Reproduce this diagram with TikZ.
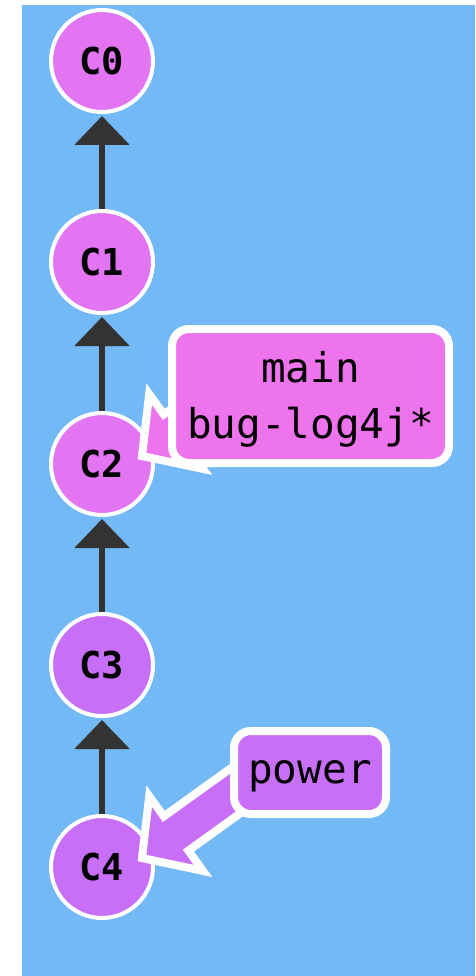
\documentclass[tikz,border=0pt]{standalone}
\usepackage{fontspec}
\usetikzlibrary{arrows.meta}
\newfontfamily\commitfont{DejaVu Sans Mono Bold}
\newfontfamily\labelfont{DejaVu Sans Mono}
\definecolor{bgblue}{RGB}{115,185,245}
\definecolor{pinkc}{RGB}{227,117,243}
\definecolor{purplec}{RGB}{199,112,247}
\definecolor{pinkl}{RGB}{238,116,238}
\definecolor{linkgray}{RGB}{51,51,51}
\tikzset{
  commit/.style={circle, draw=white, line width=4pt, minimum size=102pt, inner sep=0pt,
    font=\commitfont\fontsize{37}{40}\selectfont},
  parentlink/.style={draw=linkgray, line width=6pt,
    -{Triangle[width=54pt,length=29pt]}, shorten >=2pt},
  branchbox/.style={draw=white, line width=8pt, rounded corners=17pt, inner sep=0pt,
    font=\labelfont\fontsize{41}{56}\selectfont, align=center, text depth=0pt},
  pointer/.style={draw=white, line width=8pt, line join=miter}
}
\begin{document}
\begin{tikzpicture}[x=1pt,y=-1pt]
\useasboundingbox (0,0) rectangle (475,976);
\fill[white] (0,0) rectangle (475,976);
\fill[bgblue] (22,5) rectangle (475,976);
% commits
\node[commit, fill=pinkc] (C0) at (102,61) {C0};
\node[commit, fill=pinkc] (C1) at (102,262) {C1};
\node[commit, fill=pinkc] (C2) at (102,464) {C2};
\node[commit, fill=purplec] (C3) at (102,665) {C3};
\node[commit, fill=purplec] (C4) at (102,867) {C4};
% parent links
\draw[parentlink] (C1) -- (C0);
\draw[parentlink] (C2) -- (C1);
\draw[parentlink] (C3) -- (C2);
\draw[parentlink] (C4) -- (C3);
% pointer for main
\coordinate (mtip) at (142,456);
\filldraw[pointer, fill=pinkl] (mtip) -- (203.0,468.9) -- (188.4,448.6) -- (277.7,384.4)
  -- (253.1,350.2) -- (163.8,414.4) -- (149.2,394.1) -- cycle;
\node[branchbox, fill=pinkl, minimum width=277pt, minimum height=134pt, text height=84pt] (main) at (310.5,396)
  {main\\bug-log4j*};
% pointer for power
\coordinate (ptip) at (142,858);
\filldraw[pointer, fill=purplec] (ptip) -- (203.0,870.9) -- (188.4,850.6) -- (277.7,786.4)
  -- (253.1,752.2) -- (163.8,816.4) -- (149.2,796.1) -- cycle;
\node[branchbox, fill=purplec, minimum width=152pt, minimum height=83pt, text height=21pt] (power) at (310,772.5)
  {power};
\end{tikzpicture}
\end{document}
